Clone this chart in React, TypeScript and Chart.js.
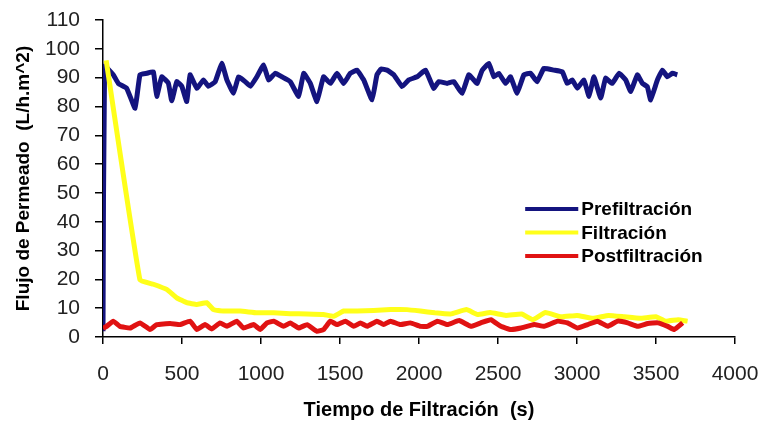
import React, { useEffect, useRef } from "react";
import { Chart, registerables } from "chart.js";

Chart.register(...registerables);

const seriesNames = ["Prefiltración", "Filtración", "Postfiltración"];
const seriesColors = ["#14147f", "#ffff1a", "#e01212"];

const xTitle = "Tiempo de Filtración  (s)";
const yTitle = "Flujo de Permeado  (L/h.m^2)";
const xTickValues = [0, 500, 1000, 1500, 2000, 2500, 3000, 3500, 4000];
const yTickValues = [0, 10, 20, 30, 40, 50, 60, 70, 80, 90, 100, 110];

const tiempoPre = [0, 10, 65, 97, 150, 203, 234, 277, 319, 340, 372, 414, 435, 467, 499, 530, 551, 594, 636, 667, 710, 752, 784, 826, 858, 900, 932, 974, 1016, 1048, 1090, 1132, 1185, 1238, 1270, 1312, 1354, 1396, 1439, 1481, 1523, 1565, 1608, 1650, 1703, 1734, 1760, 1798, 1840, 1893, 1935, 1988, 2041, 2093, 2125, 2178, 2220, 2273, 2315, 2347, 2368, 2400, 2442, 2474, 2505, 2548, 2579, 2621, 2664, 2706, 2748, 2790, 2854, 2907, 2938, 2970, 3002, 3044, 3076, 3107, 3150, 3181, 3223, 3266, 3308, 3340, 3382, 3414, 3445, 3466, 3509, 3541, 3572, 3604, 3635];
const fluxPre = [2, 94, 91, 88, 86.3, 79.4, 91, 91.5, 92, 83.5, 90.3, 88, 82, 88.6, 87, 81.7, 91, 86.3, 89.2, 87, 88.6, 95, 89.2, 84.6, 90.3, 88.6, 87, 90.3, 94.4, 89.2, 91.5, 90.3, 88.6, 83.5, 91.5, 88, 81.7, 90.3, 88, 91.5, 88, 91.5, 92.6, 89.2, 82.3, 91, 93, 92.6, 91, 86.9, 89.2, 90.3, 92.6, 86.3, 88.6, 88, 88.6, 84.6, 91, 89.2, 88, 92.6, 94.9, 90.3, 91.5, 88, 90.3, 84.6, 91, 91.5, 88.6, 93.2, 92.6, 92, 88, 89.2, 86.3, 89.2, 83.5, 90.3, 82.9, 89.8, 88, 91.5, 89.2, 85.2, 91, 88, 86.9, 82.3, 89.2, 92.6, 90.3, 91.5, 91];

const tiempoFil = [20, 234, 319, 403, 467, 530, 594, 657, 699, 763, 868, 974, 1080, 1185, 1291, 1396, 1460, 1523, 1608, 1713, 1819, 1924, 2009, 2100, 2200, 2300, 2370, 2450, 2550, 2650, 2720, 2800, 2900, 3000, 3100, 3200, 3300, 3400, 3500, 3560, 3640, 3700];
const fluxFil = [96, 19.8, 18.3, 16.5, 13.6, 11.9, 11.3, 11.9, 9.5, 9, 9, 8.4, 8.4, 8.1, 8, 7.8, 7.2, 9, 9, 9.2, 9.5, 9.5, 9, 8.4, 8, 9.5, 7.8, 8.5, 7.5, 8, 6, 8.5, 7, 7.5, 6.5, 7.5, 7, 6.5, 7, 5.5, 6, 5.5];

const tiempoPost = [0, 23, 65, 107, 171, 234, 298, 340, 425, 488, 551, 594, 646, 688, 741, 784, 847, 889, 953, 995, 1038, 1080, 1143, 1185, 1238, 1291, 1354, 1396, 1439, 1481, 1534, 1587, 1629, 1671, 1734, 1776, 1819, 1882, 1945, 2009, 2053, 2116, 2180, 2254, 2328, 2391, 2455, 2518, 2581, 2645, 2729, 2792, 2877, 2940, 3004, 3067, 3130, 3194, 3257, 3321, 3384, 3448, 3511, 3574, 3616, 3669];
const fluxPost = [3, 3.7, 5.5, 3.7, 3.1, 4.9, 2.6, 4.3, 4.7, 4.3, 5.5, 2.6, 4.3, 2.8, 4.9, 3.7, 5.5, 3.1, 4.3, 2.6, 4.9, 5.5, 3.7, 4.9, 3.1, 4.3, 2, 2.6, 5.5, 4.3, 5.5, 3.7, 4.9, 3.7, 5.5, 4.3, 5.5, 4.3, 4.9, 3.7, 3.7, 5.5, 4.3, 5.7, 3.7, 4.9, 6, 3.7, 2.6, 3.1, 4.3, 3.7, 5.5, 4.9, 3.1, 4.3, 5.5, 3.7, 5.5, 4.9, 3.7, 4.7, 4.9, 3.7, 2.6, 4.9];

const seriesTimes = [tiempoPre, tiempoFil, tiempoPost];
const seriesValues = [fluxPre, fluxFil, fluxPost];

const FONT = "'Liberation Sans', Arial, sans-serif";

const insideLegend = {
  id: "insideLegend",
  afterDraw(chart: any) {
    const { ctx, chartArea } = chart;
    const w = chartArea.right - chartArea.left;
    const h = chartArea.bottom - chartArea.top;
    const x0 = chartArea.left + 0.668 * w;
    const lineLen = 0.084 * w;
    const y0 = chartArea.top + 0.596 * h;
    const step = 23.5;
    ctx.save();
    ctx.font = `bold 19px ${FONT}`;
    ctx.textBaseline = "middle";
    ctx.textAlign = "left";
    seriesNames.forEach((name, i) => {
      const y = y0 + i * step;
      ctx.strokeStyle = seriesColors[i];
      ctx.lineWidth = 4;
      ctx.beginPath();
      ctx.moveTo(x0, y);
      ctx.lineTo(x0 + lineLen, y);
      ctx.stroke();
      ctx.fillStyle = "#000";
      ctx.fillText(name, x0 + lineLen + 3, y + 1);
    });
    ctx.restore();
  },
};

const clearPadding = (s: any) => {
  s.paddingTop = 0;
  s.paddingBottom = 0;
  s.paddingLeft = 0;
  s.paddingRight = 0;
};

export default function App() {
  const ref = useRef<HTMLCanvasElement>(null);
  useEffect(() => {
    if (!ref.current) return;
    const datasets = seriesNames.map((name, i) => ({
      label: name,
      data: seriesTimes[i].map((t, k) => ({ x: t, y: seriesValues[i][k] })),
      borderColor: seriesColors[i],
      backgroundColor: seriesColors[i],
      borderWidth: 5,
      pointRadius: 0,
      tension: 0.1,
      fill: false,
      order: 2 - i,
    }));
    const chart = new Chart(ref.current, {
      type: "line",
      data: { datasets },
      plugins: [insideLegend],
      options: {
        animation: false,
        responsive: false,
        maintainAspectRatio: false,
        devicePixelRatio: 1,
        layout: { padding: { left: 0, top: 20, right: 28, bottom: 0 } },
        plugins: { legend: { display: false }, tooltip: { enabled: false } },
        scales: {
          x: {
            type: "linear",
            min: xTickValues[0],
            max: xTickValues[xTickValues.length - 1],
            afterFit: (s: any) => { s.height = 90; clearPadding(s); },
            afterBuildTicks: (s: any) => { s.ticks = xTickValues.map((v) => ({ value: v })); },
            border: { display: true, color: "#000", width: 1.5 },
            grid: { display: true, drawOnChartArea: false, drawTicks: true, tickLength: 7, color: "#000", lineWidth: 1.5 },
            ticks: { padding: 18, color: "#222", font: { family: FONT, size: 21 }, maxRotation: 0, autoSkip: false, callback: (v: any) => String(v) },
            title: { display: true, text: xTitle, color: "#000", font: { family: FONT, size: 20, weight: "bold" }, padding: { top: 0, bottom: 5 } },
          },
          y: {
            type: "linear",
            min: yTickValues[0],
            max: yTickValues[yTickValues.length - 1],
            afterFit: (s: any) => { s.width = 103; clearPadding(s); },
            afterBuildTicks: (s: any) => { s.ticks = yTickValues.map((v) => ({ value: v })); },
            border: { display: true, color: "#000", width: 1.5 },
            grid: { display: true, drawOnChartArea: false, drawTicks: true, tickLength: 8, color: "#000", lineWidth: 1.5 },
            ticks: { padding: 15, color: "#222", font: { family: FONT, size: 21 }, autoSkip: false, callback: (v: any) => String(v) },
            title: { display: true, text: yTitle, color: "#000", font: { family: FONT, size: 19, weight: "bold" }, padding: { top: 12, bottom: 0 } },
          },
        },
      },
    } as any);
    return () => chart.destroy();
  }, []);
  return (
    <div style={{ position: "absolute", left: 0, top: 0, width: 763, height: 427, background: "#fff" }}>
      <canvas ref={ref} width={763} height={427} style={{ width: 763, height: 427, display: "block" }} />
    </div>
  );
}
